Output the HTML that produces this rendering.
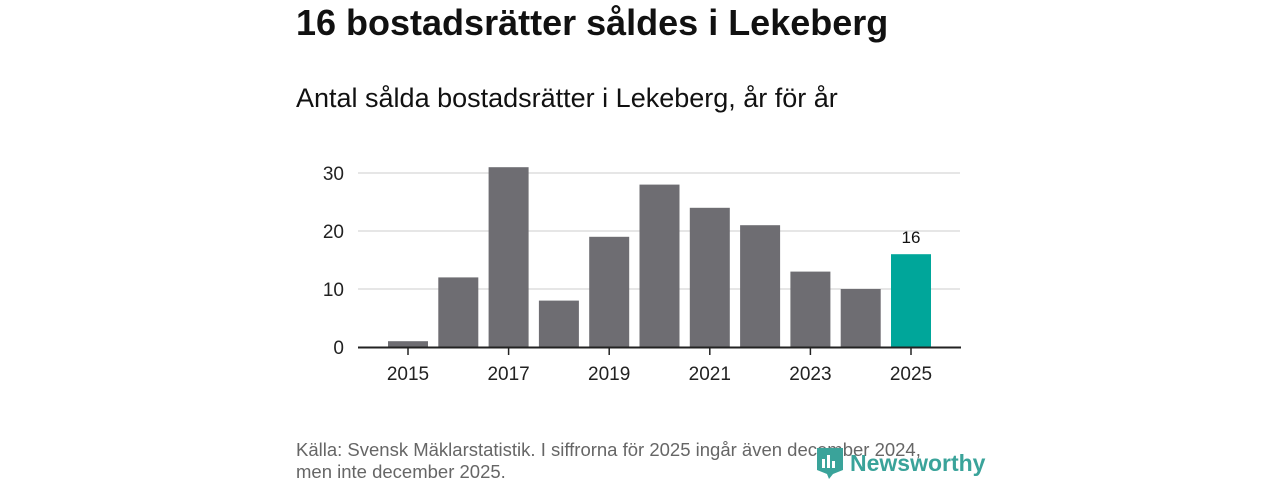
<!DOCTYPE html>
<html><head><meta charset="utf-8"><style>
body{margin:0;width:1280px;height:480px;background:#fff;font-family:"Liberation Sans",sans-serif;overflow:hidden;position:relative}
.t{position:absolute;left:296px;top:2px;font-size:36px;font-weight:bold;color:#111}
.s{position:absolute;left:296px;top:83px;font-size:27px;color:#111}
.f{position:absolute;left:296px;top:439px;font-size:18.5px;color:#666;line-height:22px}
svg{position:absolute;left:0;top:0}
</style></head><body>
<div class="t">16 bostadsrätter såldes i Lekeberg</div>
<div class="s">Antal sålda bostadsrätter i Lekeberg, år för år</div>
<svg id="c" width="1280" height="480"></svg>
<div class="f">Källa: Svensk Mäklarstatistik. I siffrorna för 2025 ingår även december 2024,<br>men inte december 2025.</div>
<script>
const years=[2015,2016,2017,2018,2019,2020,2021,2022,2023,2024,2025];
const values=[1,12,31,8,19,28,24,21,13,10,16];
const yTicks=[0,10,20,30];
const xLabels=[2015,2017,2019,2021,2023,2025];
const NS="http://www.w3.org/2000/svg",svg=document.getElementById('c');
const y=v=>347-v*5.8, x=yr=>408+(yr-2015)*50.3;
function mk(t,a,txt){const e=document.createElementNS(NS,t);for(const k in a)e.setAttribute(k,a[k]);if(txt!=null)e.textContent=txt;svg.appendChild(e);return e;}
yTicks.forEach(v=>{
 if(v>0){const g=mk('line',{x1:358,x2:960,y1:y(v),y2:y(v),stroke:'#ddd','stroke-width':1.5});
 
 }
 const t=mk('text',{x:344,y:y(v)+7,'text-anchor':'end','font-size':19,fill:'#222','font-family':'Liberation Sans'},v);
 
 
});
years.forEach((yr,i)=>{
 const last=i===years.length-1;
 const r=mk('rect',{x:x(yr)-20,y:y(values[i]),width:40,height:values[i]*5.8,fill:last?'#00a69a':'#6e6d72'});
 
 
 if(last){const l=mk('text',{x:x(yr),y:y(values[i])-11,'text-anchor':'middle','font-size':17,fill:'#111','font-family':'Liberation Sans'},values[i]);
 
 }
});
const ax=mk('line',{x1:358,x2:961,y1:347.5,y2:347.5,stroke:'#222','stroke-width':2});


xLabels.forEach(yr=>{
 const tk=mk('line',{x1:x(yr),x2:x(yr),y1:348,y2:355,stroke:'#222','stroke-width':1.5});
 
 
 const t=mk('text',{x:x(yr),y:380,'text-anchor':'middle','font-size':19,fill:'#222','font-family':'Liberation Sans'},yr);
 
 
});
</script>
<div style="position:absolute;left:815px;top:446px;display:flex;align-items:center">
<svg width="30" height="34" style="position:static"><path d="M2 2h26v22l-10 4-4 5-2-5-10-4z" fill="#3aa39a"/><rect x="7" y="13" width="3" height="9" fill="#fff"/><rect x="12" y="9" width="3" height="13" fill="#fff"/><rect x="17" y="15" width="3" height="7" fill="#fff"/></svg>
<span style="font-size:23px;font-weight:bold;color:#3aa39a;margin-left:5px">Newsworthy</span></div>
</body></html>
